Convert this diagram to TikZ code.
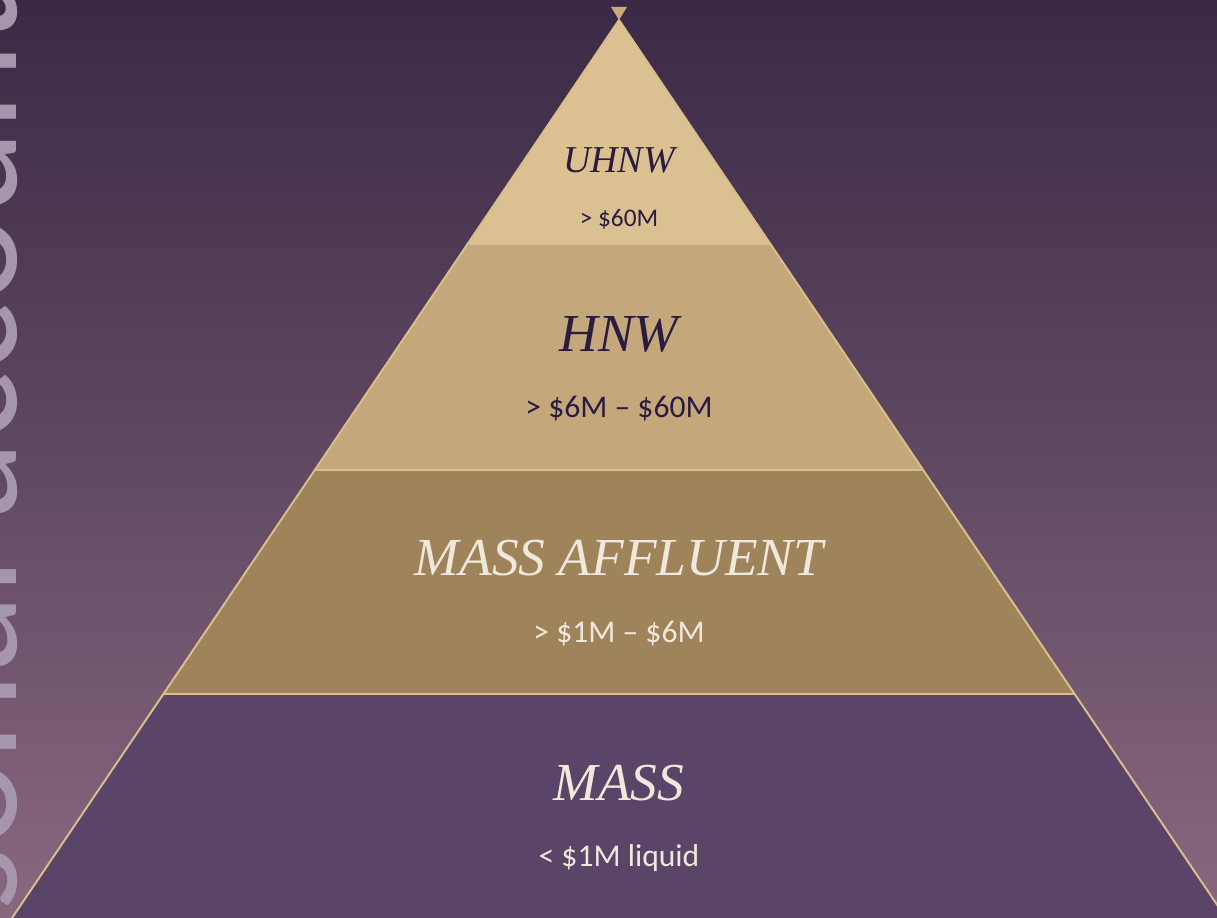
\documentclass[tikz,border=0pt]{standalone}
\usepackage{fontspec}
\setmainfont{Liberation Serif}
\newfontfamily\rangefont{Carlito}
\definecolor{plumtop}{HTML}{3A2946}
\definecolor{plummid}{HTML}{56406A}
\definecolor{plumbot}{HTML}{88687F}
\definecolor{goldA}{HTML}{DBC192}
\definecolor{goldB}{HTML}{C4A77A}
\definecolor{goldC}{HTML}{9F845B}
\definecolor{massfill}{HTML}{5A4467}
\definecolor{rim}{HTML}{D9BE8B}
\definecolor{tipgold}{HTML}{C9A979}
\definecolor{inkdark}{HTML}{2A1C40}
\definecolor{inklight}{HTML}{F1E8DC}
\definecolor{ghost}{HTML}{A596AE}

\begin{document}
\begin{tikzpicture}[x=0.025cm, y=-0.025cm,
    tiername/.style={font=\fontsize{#1}{#1}\selectfont\itshape, inner sep=0pt, anchor=base},
    tierrange/.style={font=\rangefont\fontsize{#1}{#1}\selectfont, inner sep=0pt, anchor=base}]
  \useasboundingbox (0,0) rectangle (1217,918);
  \shade[top color=plumtop, middle color=plummid, bottom color=plumbot] (0,0) rectangle (1217,918);

  % big caption running up the left side, mostly off the page
  \begin{scope}
    \clip (0,0) rectangle (1217,918);
    \node[rotate=90, anchor=base west, inner sep=0pt, text=ghost,
      font=\rangefont\fontsize{117}{117}\selectfont] (sidetitle) at (17,1130) {Personal account};
  \end{scope}

  % corners of the tiers
  \coordinate (apex) at (619,20);
  \coordinate (l1) at (467,245); \coordinate (r1) at (771,245);
  \coordinate (l2) at (315,470); \coordinate (r2) at (923,470);
  \coordinate (l3) at (163,694); \coordinate (r3) at (1075,694);
  \coordinate (l4) at (12,918);  \coordinate (r4) at (1226,918);

  \fill[goldA]    (apex) -- (r1) -- (l1) -- cycle;
  \fill[goldB]    (l1) -- (r1) -- (r2) -- (l2) -- cycle;
  \fill[goldC]    (l2) -- (r2) -- (r3) -- (l3) -- cycle;
  \fill[massfill] (l3) -- (r3) -- (r4) -- (l4) -- cycle;
  \draw[rim, line width=1.2pt] (l2) -- (r2) (l3) -- (r3);
  \draw[rim, line width=1.4pt, line join=round] (l4) -- (apex) -- (r4);
  \fill[tipgold] (611,7) -- (627,7) -- (apex) -- cycle;

  \node[tiername=27, text=inkdark]   (uhnw)  at (619,173) {UHNW};
  \node[tierrange=18, text=inkdark]  (uhnwrange) at (619,227) {> \$60M};
  \node[tiername=38, text=inkdark]   (hnw)   at (619,352) {HNW};
  \node[tierrange=22.5, text=inkdark] (hnwrange) at (619,418) {> \$6M – \$60M};
  \node[tiername=38, text=inklight]  (affluent) at (619,575) {MASS AFFLUENT};
  \node[tierrange=22.5, text=inklight] (affluentrange) at (619,642) {> \$1M – \$6M};
  \node[tiername=38, text=inklight]  (mass)  at (619,800) {MASS};
  \node[tierrange=22.5, text=inklight] (massrange) at (619,866) {< \$1M liquid};
\end{tikzpicture}
\end{document}
